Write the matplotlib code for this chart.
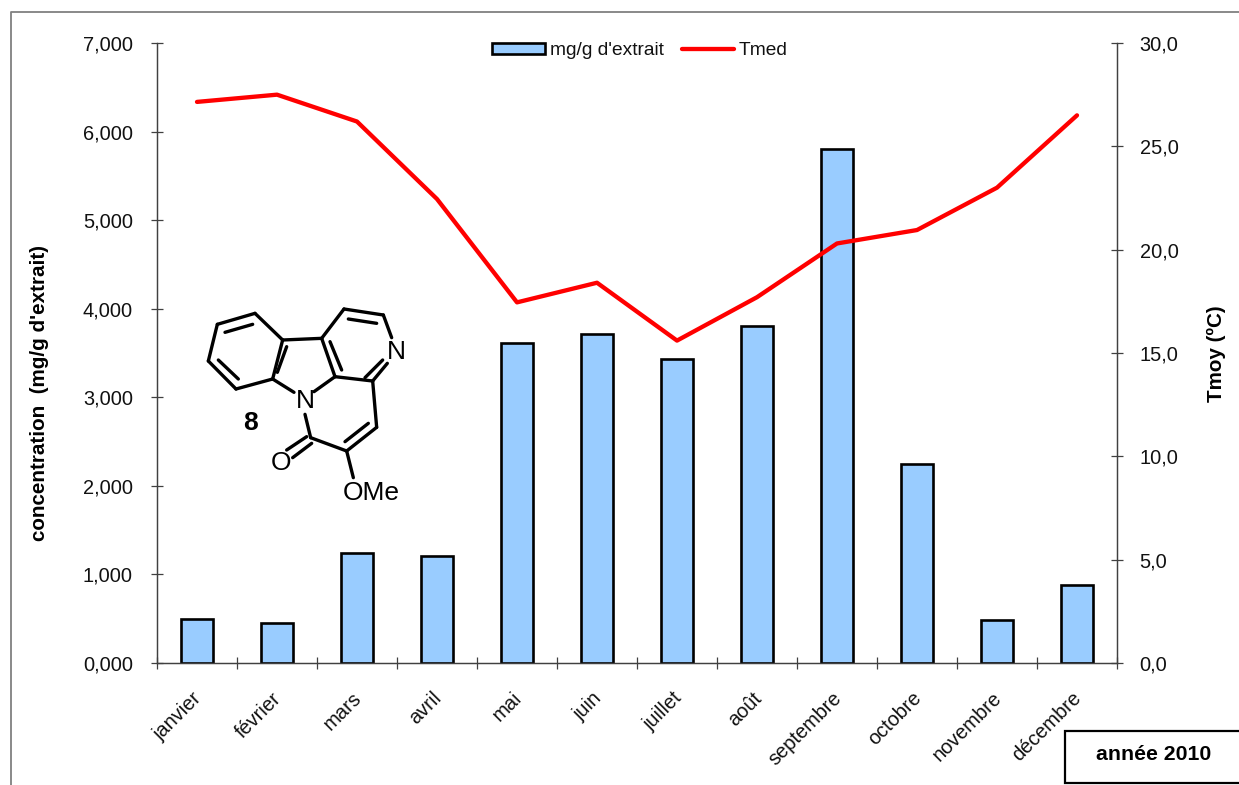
import matplotlib
matplotlib.use("Agg")
import matplotlib.pyplot as plt
from matplotlib.patches import Rectangle
from matplotlib.transforms import ScaledTranslation

plt.rcParams["font.family"] = ["Liberation Sans", "DejaVu Sans"]

W, H = 1239, 785

months = ["janvier", "février", "mars", "avril", "mai", "juin", "juillet",
          "août", "septembre", "octobre", "novembre", "décembre"]
concentration = [0.495, 0.45, 1.24, 1.21, 3.61, 3.71, 3.43, 3.81, 5.80, 2.245, 0.485, 0.88]
tmed = [27.15, 27.5, 26.2, 22.45, 17.45, 18.4, 15.6, 17.7, 20.3, 20.95, 23.0, 26.5]
left_ticks = [0, 1, 2, 3, 4, 5, 6, 7]
right_ticks = [0, 5, 10, 15, 20, 25, 30]

# molecule outline, in zoomed crop pixels (crop origin 190,295, scale 3)
atoms = {
    "a": (195, 55), "b": (82, 88), "c": (55, 198), "d": (138, 282), "e": (248, 252),
    "f": (278, 135), "g": (395, 130), "h": (435, 245), "i": (462, 42), "j": (580, 60),
    "k": (548, 258), "l": (560, 397), "m": (470, 468), "n": (362, 428),
}
bonds = [
    ("a", "b"), ("b", "c"), ("c", "d"), ("d", "e"), ("e", "f"), ("f", "a"), ("f", "g"),
    ("g", "h"), ("g", "i"), ("i", "j"), ("h", "k"), ("k", "l"), ("l", "m"), ("m", "n"),
]
inner_bonds = [
    ((105, 112), (188, 88)), ((85, 195), (145, 252)), ((262, 232), (290, 155)),
    ((420, 140), (455, 225)), ((475, 72), (560, 85)), ((525, 248), (578, 195)),
    ((465, 440), (535, 385)),
]
hetero_bonds = [
    ((580, 60), (605, 128)), ((548, 258), (592, 205)), ((248, 252), (312, 292)),
    ((435, 245), (372, 290)), ((345, 358), (362, 428)), ((470, 468), (490, 548)),
    ((350, 425), (290, 465)), ((365, 445), (308, 488)),
]


def crop_xy(p):
    return 190 + p[0] / 3, 295 + p[1] / 3


fig = plt.figure(figsize=(W / 100, H / 100), dpi=100)
ax = fig.add_axes([157 / W, 1 - 663 / H, 960 / W, 620 / H])
ax2 = ax.twinx()

x = list(range(len(months)))
bars = ax.bar(x, concentration, width=0.41, color="#99CCFF", edgecolor="black",
              linewidth=1.9, label="mg/g d'extrait")
line, = ax2.plot(x, tmed, color="#FF0000", linewidth=3.1, solid_joinstyle="round",
                 solid_capstyle="round", label="Tmed")

ax.set_xlim(-0.5, 11.5)
ax.set_ylim(0, 7)
ax2.set_ylim(0, 30)
ax.set_yticks(left_ticks)
ax.set_yticklabels([f"{v:.3f}".replace(".", ",") for v in left_ticks])
ax2.set_yticks(right_ticks)
ax2.set_yticklabels([f"{v:.1f}".replace(".", ",") for v in right_ticks])
ax.set_xticks([i - 0.5 for i in range(13)])
ax.set_xticklabels([])
ax.set_xticks(x, minor=True)
ax.set_xticklabels(months, minor=True, rotation=45, ha="right", va="top",
                   rotation_mode="anchor", fontsize=14.4, color="#111111")
ax.tick_params(axis="x", which="major", direction="inout", length=8.6, width=0.9, color="#404040")
ax.tick_params(axis="x", which="minor", length=0, pad=17)
ax.tick_params(axis="y", direction="inout", length=8.6, width=0.9, color="#404040",
               labelsize=14.4, pad=13, labelcolor="#111111")
ax2.tick_params(axis="y", direction="inout", length=8.6, width=0.9, color="#404040",
                labelsize=14.4, pad=12, labelcolor="#111111")
for a in (ax, ax2):
    a.spines["top"].set_visible(False)
    for s in ("left", "right", "bottom"):
        a.spines[s].set_linewidth(0.9)
        a.spines[s].set_color("#404040")

# month labels sit a little left and lower than the default anchor
nudge = ScaledTranslation(-5 / 100, -2 / 100, fig.dpi_scale_trans)
for lab in ax.get_xticklabels(minor=True):
    lab.set_transform(lab.get_transform() + nudge)

fig.legend([bars, line], ["mg/g d'extrait", "Tmed"], ncol=2, frameon=False,
           loc="center", bbox_to_anchor=(640 / W, 1 - 50.5 / H), fontsize=13.8,
           handlelength=2.75, handleheight=0.5, handletextpad=0.25, columnspacing=0.95,
           borderpad=0, borderaxespad=0, labelcolor="#111111")

# overlay in image pixels for frame, box, axis titles and molecule
over = fig.add_axes([0, 0, 1, 1], zorder=5)
over.set_xlim(0, W)
over.set_ylim(H, 0)
over.axis("off")

over.plot([11, 11, W], [H, 12, 12], color="#808080", linewidth=1.3, clip_on=False)
over.add_patch(Rectangle((1065, 731), 200, 52, facecolor="white", edgecolor="black",
                         linewidth=1.6))
over.text(1154, 755, "année 2010", fontsize=15.3, fontweight="bold", ha="center", va="center")
over.text(40, 393, "concentration  (mg/g d'extrait)", fontsize=14.9, fontweight="bold",
          rotation=90, ha="center", va="center")
over.text(1216, 354, "Tmoy (ºC)", fontsize=14.9, fontweight="bold",
          rotation=90, ha="center", va="center")

for p, q in bonds:
    x0, y0 = crop_xy(atoms[p])
    x1, y1 = crop_xy(atoms[q])
    over.plot([x0, x1], [y0, y1], color="black", linewidth=2.4, solid_capstyle="round")
for p, q in inner_bonds + hetero_bonds:
    x0, y0 = crop_xy(p)
    x1, y1 = crop_xy(q)
    over.plot([x0, x1], [y0, y1], color="black", linewidth=2.4, solid_capstyle="round")

for label, p, size, weight in [("N", (345, 318), 19, "normal"), ("N", (620, 170), 19, "normal"),
                               ("O", (272, 505), 19, "normal"), ("OMe", (545, 595), 19, "normal"),
                               ("8", (183, 385), 19, "bold")]:
    px, py = crop_xy(p)
    over.text(px, py, label, fontsize=size, fontweight=weight, ha="center", va="center")

fig.savefig("out.png", dpi=100)
